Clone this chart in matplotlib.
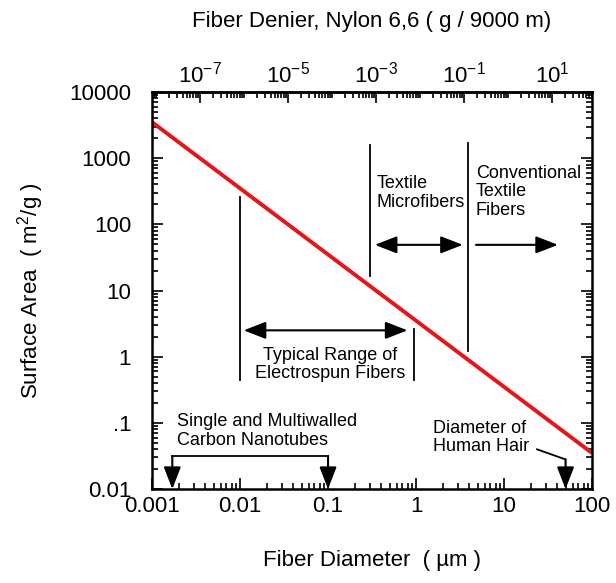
"""Surface area vs fiber diameter."""
import matplotlib
matplotlib.use("Agg")
import matplotlib.pyplot as plt
from matplotlib.ticker import FixedLocator, LogLocator, NullFormatter, FixedFormatter

plt.rcParams['font.family'] = ['Liberation Sans', 'DejaVu Sans']
plt.rcParams['mathtext.fontset'] = 'custom'
plt.rcParams['mathtext.rm'] = 'Liberation Sans'
plt.rcParams['mathtext.it'] = 'Liberation Sans'

# data
diameter = [0.001, 100]          # um
surface_area = [3500, 0.035]     # m^2/g

y_ticks = [0.01, 0.1, 1, 10, 100, 1000, 10000]
y_labels = ['0.01', '.1', '1', '10', '100', '1000', '10000']
x_ticks = [0.001, 0.01, 0.1, 1, 10, 100]
x_labels = ['0.001', '0.01', '0.1', '1', '10', '100']
denier_ticks = [1e-7, 1e-5, 1e-3, 1e-1, 1e1]
denier_labels = ['$10^{-7}$', '$10^{-5}$', '$10^{-3}$', '$10^{-1}$', '$10^{1}$']

# denier of nylon 6,6 as a function of diameter in um
k_denier = 8.058e-3


def to_denier(d):
    return k_denier * d ** 2


def from_denier(den):
    return (den / k_denier) ** 0.5


fs_tick = 16
fs_note = 13

fig = plt.figure(figsize=(6.16, 5.83), dpi=100)
ax = fig.add_axes([0.2468, 0.1612, 0.7143, 0.681])
ax.set_xscale('log')
ax.set_yscale('log')
ax.set_xlim(0.001, 100)
ax.set_ylim(0.01, 10000)

ax.plot(diameter, surface_area, color='#e8141b', lw=2.8, solid_capstyle='butt')

ax.xaxis.set_major_locator(FixedLocator(x_ticks))
ax.xaxis.set_major_formatter(FixedFormatter(x_labels))
ax.xaxis.set_minor_locator(LogLocator(base=10, subs=range(2, 10), numticks=20))
ax.xaxis.set_minor_formatter(NullFormatter())
ax.yaxis.set_major_locator(FixedLocator(y_ticks))
ax.yaxis.set_major_formatter(FixedFormatter(y_labels))
ax.yaxis.set_minor_locator(LogLocator(base=10, subs=range(2, 10), numticks=20))
ax.yaxis.set_minor_formatter(NullFormatter())
ax.tick_params(which='both', direction='in', right=True, top=False, width=1.2)
ax.tick_params(which='major', length=8, labelsize=fs_tick)
ax.tick_params(which='minor', length=4)
ax.tick_params(axis='x', which='major', pad=5)
ax.tick_params(axis='y', which='major', pad=15)
for s in ax.spines.values():
    s.set_linewidth(1.8)

ax.set_xlabel('Fiber Diameter  ( \u00b5m )', fontsize=fs_tick, labelpad=24)
ax.set_ylabel('Surface Area  ( m$^2$/g )', fontsize=fs_tick, labelpad=17)

top = ax.secondary_xaxis('top', functions=(to_denier, from_denier))
top.xaxis.set_major_locator(FixedLocator(denier_ticks))
top.xaxis.set_major_formatter(FixedFormatter(denier_labels))
top.xaxis.set_minor_locator(LogLocator(base=10, subs=range(1, 10), numticks=30))
top.xaxis.set_minor_formatter(NullFormatter())
top.tick_params(which='both', direction='in', width=1.2)
top.tick_params(which='major', length=8, labelsize=fs_tick, pad=3)
top.tick_params(which='minor', length=4)
top.spines['top'].set_linewidth(1.8)
top.set_xlabel('Fiber Denier, Nylon 6,6 ( g / 9000 m)', fontsize=fs_tick, labelpad=25)

lk = dict(color='k', lw=1.3)
dbl = dict(arrowstyle='<|-|>,head_length=0.9,head_width=0.35', color='k',
           lw=1.5, shrinkA=0, shrinkB=0, mutation_scale=15)
sgl = dict(arrowstyle='-|>,head_length=0.9,head_width=0.35', color='k',
           lw=1.5, shrinkA=0, shrinkB=0, mutation_scale=15)

# electrospun range
ax.plot([0.01, 0.01], [0.45, 260], **lk)
ax.plot([0.95, 0.95], [0.45, 2.66], **lk)
ax.annotate('', xy=(0.011, 2.5), xytext=(0.8, 2.5), arrowprops=dbl)
ax.text(0.105, 0.76, 'Typical Range of\nElectrospun Fibers', fontsize=fs_note,
        ha='center', va='center', linespacing=1.12)

# textile microfibers
ax.plot([0.30, 0.30], [16.8, 1585], **lk)
ax.plot([3.9, 3.9], [1.2, 1700], **lk)
ax.annotate('', xy=(0.34, 49), xytext=(3.4, 49), arrowprops=dbl)
ax.text(0.36, 295, 'Textile\nMicrofibers', fontsize=fs_note, ha='left',
        va='center', linespacing=1.12)

# conventional fibers
ax.annotate('', xy=(41, 49), xytext=(4.8, 49), arrowprops=sgl)
ax.text(4.8, 310, 'Conventional\nTextile\nFibers', fontsize=fs_note, ha='left',
        va='center', linespacing=1.12)

# carbon nanotubes
ax.plot([0.0017, 0.1], [0.0316, 0.0316], **lk)
ax.annotate('', xy=(0.0017, 0.01), xytext=(0.0017, 0.0316), arrowprops=sgl)
ax.annotate('', xy=(0.1, 0.01), xytext=(0.1, 0.0316), arrowprops=sgl)
ax.text(0.0019, 0.076, 'Single and Multiwalled\nCarbon Nanotubes', fontsize=fs_note,
        ha='left', va='center', linespacing=1.12)

# human hair
ax.plot([23.7, 50], [0.0398, 0.028], **lk)
ax.annotate('', xy=(50, 0.01), xytext=(50, 0.028), arrowprops=sgl)
ax.text(1.55, 0.06, 'Diameter of\nHuman Hair', fontsize=fs_note, ha='left',
        va='center', linespacing=1.12)

fig.savefig('out.png', dpi=100)
